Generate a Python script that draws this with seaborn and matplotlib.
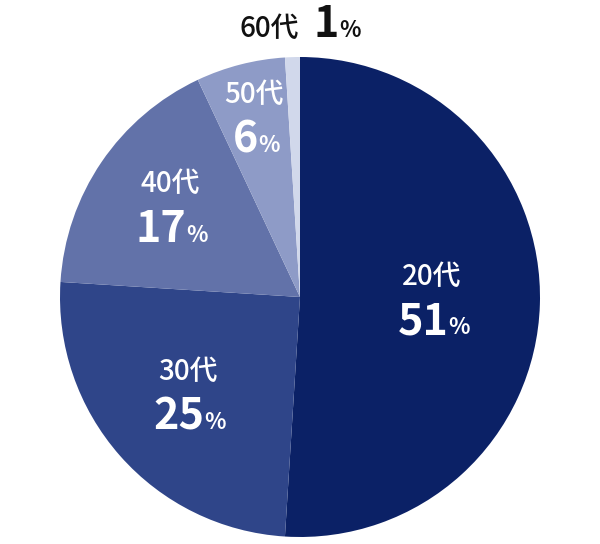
import numpy as np
import matplotlib.pyplot as plt
import seaborn as sns

sns.set_theme(style="white")
plt.rcParams['font.family'] = ['Noto Sans CJK JP', 'DejaVu Sans']

# data
ages = ["20代", "30代", "40代", "50代", "60代"]
shares = [51, 25, 17, 6, 1]
colors = ["#0b2166", "#2f4589", "#6272a9", "#8e9bc7", "#d1d8eb"]

# label placement (fraction of radius) and text colour per slice
label_r = [0.55, 0.625, 0.655, 0.765, 1.13]
label_col = ["white", "white", "white", "white", "#111111"]

fig = plt.figure(figsize=(6, 5.44), dpi=100)
ax = fig.add_axes([0, 0, 1, 1])
ax.axis("off")
cx, cy, R = 300, 544 - 297, 240

wedges, _ = ax.pie(shares, colors=colors, startangle=90, counterclock=False,
                   radius=R, center=(cx, cy),
                   wedgeprops=dict(linewidth=0))
ax.set_xlim(0, 600)
ax.set_ylim(0, 544)
ax.set_aspect("equal")

renderer = fig.canvas.get_renderer()


def pct_label(x, y, value, c, center=True):
    # bold number + smaller %, sharing a baseline; x is group centre or left edge
    n = ax.text(x, y, str(value), ha="left", va="baseline", fontsize=31,
                fontweight="bold", color=c)
    p = ax.text(x, y, "%", ha="left", va="baseline", fontsize=16,
                fontweight="bold", color=c)
    wn = n.get_window_extent(renderer).width
    wp = p.get_window_extent(renderer).width
    gap = 0
    x0 = x - (wn + gap + wp) / 2 if center else x
    n.set_x(x0)
    p.set_x(x0 + wn + gap)


for i, w in enumerate(wedges):
    ang = np.deg2rad((w.theta1 + w.theta2) / 2)
    x = cx + label_r[i] * R * np.cos(ang)
    y = cy + label_r[i] * R * np.sin(ang)
    c = label_col[i]
    if i == len(wedges) - 1:
        # tiny slice: label sits outside on one line
        ax.text(x + 7, y - 11, ages[i], ha="right", va="baseline", fontsize=20,
                fontweight="medium", color=c)
        pct_label(x + 22, y - 11, shares[i], c, center=False)
    else:
        ax.text(x, y + 25, ages[i], ha="center", va="center", fontsize=20,
                fontweight="medium", color=c)
        pct_label(x + 2, y - 33, shares[i], c)

fig.savefig("out.png", dpi=100, facecolor="white")
